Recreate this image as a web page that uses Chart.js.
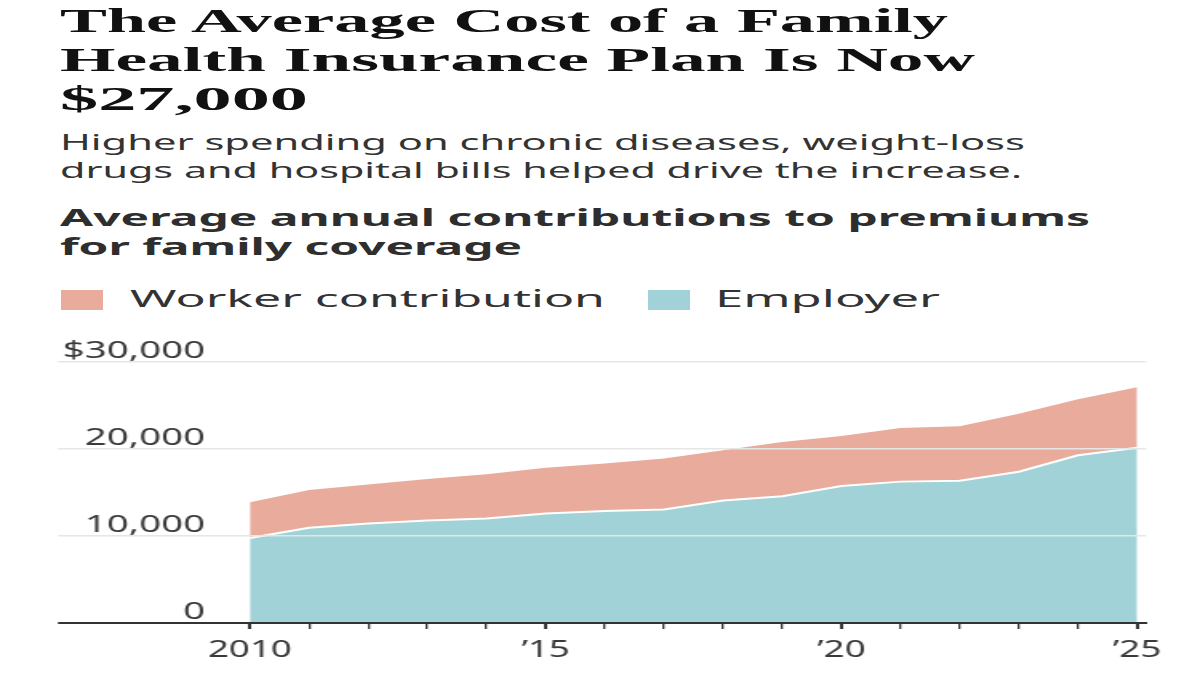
<!DOCTYPE html>
<html>
<head>
<meta charset="utf-8">
<script src="https://cdn.jsdelivr.net/npm/chart.js@4.4.1/dist/chart.umd.min.js"></script>
<style>
  html, body { margin: 0; padding: 0; background: #fff; }
  body { width: 1200px; height: 675px; position: relative; overflow: hidden; }
  .t { position: absolute; left: 60px; white-space: nowrap; transform-origin: 0 0; display: inline-block; }
  .title { font-family: "Liberation Serif", serif; font-weight: 700; font-size: 34px; line-height: 34px; color: #111; }
  .sub { font-family: "Noto Sans", sans-serif; font-size: 22px; line-height: 22px; color: #333; }
  .ctitle { font-family: "Noto Sans", sans-serif; font-weight: 700; font-size: 24px; line-height: 24px; color: #2e2e2e; }
  .leg { font-family: "Noto Sans", sans-serif; font-size: 23.5px; line-height: 23.5px; color: #333; }
  .sw { position: absolute; width: 42px; height: 20px; top: 290px; }
  #wrap { position: absolute; left: 0; top: 330px; width: 750px; height: 345px; transform: scaleX(1.6); transform-origin: 0 0; }
</style>
</head>
<body>
<div class="t title" id="t1" data-w="888" style="top:4px">The Average Cost of a Family</div>
<div class="t title" id="t2" data-w="915" style="top:43px">Health Insurance Plan Is Now</div>
<div class="t title" id="t3" data-w="248" style="top:82px">$27,000</div>
<div class="t sub" data-w="965" style="top:130px">Higher spending on chronic diseases, weight-loss</div>
<div class="t sub" data-w="962" style="top:158px">drugs and hospital bills helped drive the increase.</div>
<div class="t ctitle" data-w="1030" style="top:205px">Average annual contributions to premiums</div>
<div class="t ctitle" data-w="462" style="top:234px">for family coverage</div>
<div class="sw" id="sw1" style="left:61px"></div>
<div class="t leg" id="lg1" data-w="475" style="left:130px;top:287px"></div>
<div class="sw" id="sw2" style="left:648px"></div>
<div class="t leg" id="lg2" data-w="225" style="left:715px;top:287px"></div>
<div id="wrap"><canvas id="chart"></canvas></div>
<script>
// Data
const years = [2010, 2011, 2012, 2013, 2014, 2015, 2016, 2017, 2018, 2019, 2020, 2021, 2022, 2023, 2024, 2025];
const employer = [9770, 10940, 11430, 11790, 12010, 12590, 12870, 13050, 14070, 14560, 15750, 16250, 16360, 17390, 19280, 20140];
const worker = [4100, 4350, 4500, 4750, 5100, 5250, 5450, 5850, 5800, 6250, 5750, 6150, 6250, 6650, 6450, 6950];
const seriesNames = ["Worker contribution", "Employer"];
const seriesColors = ["#e9ab9b", "#a1d2d7"];
const yTicks = [0, 10000, 20000, 30000];
const yTickLabels = ["0", "10,000", "20,000", "$30,000"];
const xTickLabels = { 2010: "2010", 2015: "\u201915", 2020: "\u201920", 2025: "\u201925" };

// Legend (HTML)
document.getElementById("sw1").style.background = seriesColors[0];
document.getElementById("sw2").style.background = seriesColors[1];
document.getElementById("lg1").textContent = seriesNames[0];
document.getElementById("lg2").textContent = seriesNames[1];

// Stretch each text line to the width it has in the reference
function fitText() {
  document.querySelectorAll(".t").forEach((el) => {
    el.style.transform = "none";
    const w = el.getBoundingClientRect().width;
    el.style.transform = `scaleX(${el.dataset.w / w})`;
  });
}
fitText();
if (document.fonts) document.fonts.ready.then(fitText);

// Canvas is drawn 1.6x narrower and stretched back out by the wrapper
const K = 1.6;
const axisLeft = 58 / K;
const plotLeft = 205 / K;
const plotRight = 1146 / K;
const pageW = 1200 / K;

Chart.defaults.font.family = "'Noto Sans', sans-serif";
Chart.defaults.color = "#3a3a3a";

new Chart(document.getElementById("chart"), {
  type: "line",
  data: {
    labels: years,
    datasets: [
      {
        label: seriesNames[1],
        data: years.map((y, i) => ({ x: y, y: employer[i] })),
        backgroundColor: seriesColors[1],
        borderColor: "#ffffff",
        borderWidth: 2,
        pointRadius: 0,
        tension: 0,
        fill: "origin",
      },
      {
        label: seriesNames[0],
        data: years.map((y, i) => ({ x: y, y: worker[i] })),
        backgroundColor: seriesColors[0],
        borderWidth: 0,
        pointRadius: 0,
        tension: 0,
        fill: "-1",
      },
    ],
  },
  options: {
    responsive: true,
    maintainAspectRatio: false,
    animation: false,
    layout: { padding: { left: axisLeft, right: pageW - plotRight, top: 32, bottom: 0 } },
    plugins: { legend: { display: false }, tooltip: { enabled: false } },
    scales: {
      x: {
        type: "linear",
        min: 2009.24,
        max: 2025.15,
        afterBuildTicks: (s) => { s.ticks = years.map((v) => ({ value: v })); },
        afterFit: (s) => { s.height = 52; },
        grid: {
          drawOnChartArea: false,
          drawTicks: true,
          tickLength: 6,
          color: "#333",
          lineWidth: (c) => (xTickLabels[c.tick && c.tick.value] ? 2 : 1.3),
        },
        border: { display: true, color: "#333", width: 2 },
        ticks: {
          autoSkip: false,
          maxRotation: 0,
          padding: 8,
          font: { size: 23 },
          callback: (v) => xTickLabels[v] || "",
        },
      },
      y: {
        stacked: true,
        min: 0,
        max: 30000,
        afterBuildTicks: (s) => { s.ticks = yTicks.map((v) => ({ value: v })); },
        afterFit: (s) => { s.width = plotLeft - axisLeft; },
        grid: {
          z: 1,
          drawTicks: true,
          tickLength: plotLeft - axisLeft,
          color: (c) => (c.tick && c.tick.value === 0 ? "#333" : "#e6e6e6"),
          lineWidth: (c) => (c.tick && c.tick.value === 0 ? 2 : 1.5),
        },
        border: { display: false },
        ticks: {
          padding: -(plotLeft - axisLeft),
          labelOffset: -11,
          font: { size: 24 },
          callback: (v) => yTickLabels[yTicks.indexOf(v)],
        },
      },
    },
  },
});
</script>
</body>
</html>
